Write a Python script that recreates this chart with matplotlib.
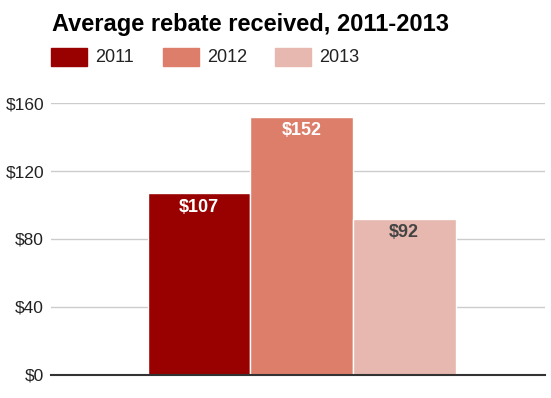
import matplotlib.pyplot as plt
from matplotlib.patches import Rectangle

plt.rcParams["font.family"] = ["Liberation Sans", "DejaVu Sans"]

years = ["2011", "2012", "2013"]
rebates = [107, 152, 92]
colors = ["#990000", "#dd7e6b", "#e6b8af"]
label_colors = ["white", "white", "#444444"]
yticks = [0, 40, 80, 120, 160]

fig = plt.figure(figsize=(5.51, 3.98), dpi=100)
ax = fig.add_axes([0.0926, 0.0578, 0.8964, 0.6834])

xs = list(range(len(years)))
bars = ax.bar(xs, rebates, width=1.0, color=colors, edgecolor="white",
              linewidth=1.0, zorder=3)

for x, v, c in zip(xs, rebates, label_colors):
    ax.annotate(f"${v}", (x, v), xytext=(0, -4), textcoords="offset points",
                ha="center", va="top", fontsize=13, fontweight="bold",
                color=c, zorder=4)

ax.set_xlim(-1.44, 3.37)
ax.set_ylim(0, 160)
ax.set_yticks(yticks)
ax.set_yticklabels([f"${t}" for t in yticks], fontsize=12.5, color="#222222")
ax.set_xticks([])
ax.tick_params(axis="y", length=0, pad=5)
ax.grid(axis="y", color="#cccccc", linewidth=1, zorder=0)
for side in ["top", "right", "left"]:
    ax.spines[side].set_visible(False)
ax.spines["bottom"].set_color("#333333")
ax.spines["bottom"].set_linewidth(1.5)
ax.spines["bottom"].set_zorder(5)

fig.text(52 / 551, 1 - 24 / 398, "Average rebate received, 2011-2013",
         fontsize=17, fontweight="bold", color="black", va="center", ha="left")

# legend row
leg_x = [51, 163, 275]
for lx, yr, c in zip(leg_x, years, colors):
    fig.patches.append(Rectangle((lx / 551, 1 - 66 / 398), 36 / 551, 18 / 398,
                                 transform=fig.transFigure, color=c))
    fig.text((lx + 44) / 551, 1 - 57 / 398, yr, fontsize=13, color="#222222",
             va="center", ha="left")

fig.savefig("out.png", dpi=100)
